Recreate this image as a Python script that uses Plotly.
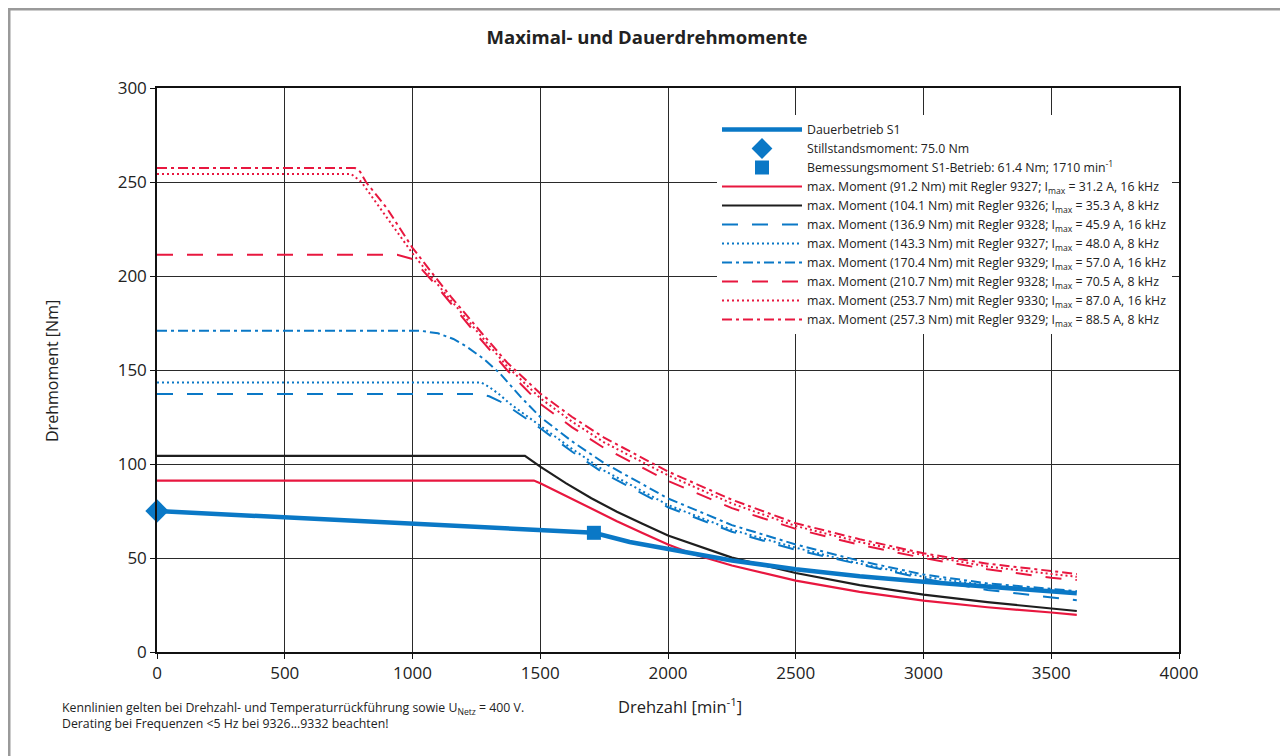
import plotly.graph_objects as go

# ---------------- data ----------------
x_ticks = [0, 500, 1000, 1500, 2000, 2500, 3000, 3500, 4000]
y_ticks = [0, 50, 100, 150, 200, 250, 300]

# Dauerbetrieb S1
n_s1 = [0, 1710, 1850, 2000, 2250, 2500, 2750, 3000, 3250, 3500, 3600]
t_s1 = [75.0, 63.4, 58.5, 54.6, 48.7, 44.0, 40.3, 37.4, 34.6, 32.1, 31.2]

# Stillstandsmoment / Bemessungsmoment
n_still = [0]
t_still = [75.0]
n_rated = [1710]
t_rated = [63.4]

# max. Moment 91.2 Nm (9327, 16 kHz) - red solid
n_r1 = [0, 1475, 1500, 1600, 1700, 1800, 1900, 2000, 2100, 2250, 2500, 2750, 3000, 3250, 3500, 3600]
t_r1 = [91.2, 91.2, 89.8, 83.0, 76.2, 69.6, 63.3, 57.2, 52.0, 46.0, 38.0, 32.0, 27.3, 23.8, 21.0, 19.8]

# max. Moment 104.1 Nm (9326, 8 kHz) - black solid
n_k1 = [0, 1440, 1500, 1600, 1700, 1800, 1900, 2000, 2250, 2500, 2750, 3000, 3250, 3500, 3600]
t_k1 = [104.3, 104.3, 98.6, 89.8, 81.8, 74.6, 68.2, 62.0, 50.2, 42.0, 35.6, 30.5, 26.5, 23.0, 21.8]

# max. Moment 136.9 Nm (9328, 16 kHz) - blue dashed
n_b1 = [0, 1264, 1300, 1340, 1382, 1440, 1500, 1625, 1750, 2000, 2250, 2500, 2750, 3000, 3250, 3500, 3600]
t_b1 = [137.2, 137.2, 136.0, 133.5, 130.0, 124.6, 119.0, 106.5, 95.0, 77.0, 64.0, 54.3, 46.5, 39.0, 33.0, 29.2, 27.5]

# max. Moment 143.3 Nm (9327, 8 kHz) - blue dotted
n_b2 = [0, 1270, 1300, 1340, 1382, 1440, 1500, 1625, 1750, 2000, 2250, 2500, 2750, 3000, 3250, 3500, 3600]
t_b2 = [143.3, 143.3, 141.0, 137.0, 132.0, 126.2, 120.5, 108.0, 96.5, 78.2, 65.0, 55.5, 47.0, 40.0, 35.5, 32.5, 31.8]

# max. Moment 170.4 Nm (9329, 16 kHz) - blue dash-dot
n_b3 = [0, 1030, 1100, 1160, 1212, 1280, 1342, 1420, 1500, 1625, 1750, 2000, 2250, 2500, 2750, 3000, 3250, 3500, 3600]
t_b3 = [170.9, 170.9, 169.5, 166.5, 162.4, 155.8, 148.2, 136.2, 125.0, 112.0, 100.5, 81.7, 67.5, 57.2, 48.5, 41.2, 36.5, 33.3, 32.4]

# max. Moment 210.7 Nm (9328, 8 kHz) - red dashed
n_r2 = [0, 940, 1000, 1080, 1150, 1250, 1370, 1500, 1625, 1750, 2000, 2250, 2500, 2750, 3000, 3250, 3500, 3600]
t_r2 = [211.3, 211.3, 209.0, 197.0, 185.5, 169.0, 150.0, 132.0, 119.5, 108.5, 91.0, 76.5, 65.5, 57.0, 50.0, 44.0, 39.5, 38.3]

# max. Moment 253.7 Nm (9330, 16 kHz) - red dotted
n_r3 = [0, 760, 800, 900, 1000, 1080, 1150, 1250, 1370, 1500, 1625, 1750, 2000, 2250, 2500, 2750, 3000, 3250, 3500, 3600]
t_r3 = [254.3, 254.3, 250.0, 231.0, 212.0, 198.5, 187.0, 171.0, 152.0, 135.0, 122.5, 111.5, 94.0, 79.0, 67.0, 58.5, 51.5, 45.5, 41.5, 40.0]

# max. Moment 257.3 Nm (9329, 8 kHz) - red dash-dot
n_r4 = [0, 775, 795, 818, 900, 1000, 1080, 1150, 1250, 1370, 1500, 1625, 1750, 2000, 2250, 2500, 2750, 3000, 3250, 3500, 3600]
t_r4 = [257.4, 257.4, 255.5, 250.0, 236.0, 215.0, 201.0, 189.0, 173.0, 154.0, 137.5, 125.0, 114.0, 96.0, 81.0, 68.5, 60.0, 52.5, 47.0, 43.0, 41.5]

names = [
    "Dauerbetrieb S1",
    "Stillstandsmoment: 75.0 Nm",
    "Bemessungsmoment S1-Betrieb: 61.4 Nm; 1710 min<sup>-1</sup>",
    "max. Moment (91.2 Nm) mit Regler 9327; I<sub>max</sub> = 31.2 A, 16 kHz",
    "max. Moment (104.1 Nm) mit Regler 9326; I<sub>max</sub> = 35.3 A, 8 kHz",
    "max. Moment (136.9 Nm) mit Regler 9328; I<sub>max</sub> = 45.9 A, 16 kHz",
    "max. Moment (143.3 Nm) mit Regler 9327; I<sub>max</sub> = 48.0 A, 8 kHz",
    "max. Moment (170.4 Nm) mit Regler 9329; I<sub>max</sub> = 57.0 A, 16 kHz",
    "max. Moment (210.7 Nm) mit Regler 9328; I<sub>max</sub> = 70.5 A, 8 kHz",
    "max. Moment (253.7 Nm) mit Regler 9330; I<sub>max</sub> = 87.0 A, 16 kHz",
    "max. Moment (257.3 Nm) mit Regler 9329; I<sub>max</sub> = 88.5 A, 8 kHz",
]

# ---------------- styles ----------------
BLUE = "#0a78c6"
RED = "#e8173f"
BLACK = "#1e1e1e"
FONT = "Open Sans, Noto Sans, DejaVu Sans, sans-serif"
DASH = "16px,14px"
DOT = "2px,3px"
DASHDOT = "10px,4px,3px,4px"

fig = go.Figure()

curves = [
    (n_r1, t_r1, RED, "solid", 2.2, names[3], 4),
    (n_k1, t_k1, BLACK, "solid", 2.2, names[4], 5),
    (n_b1, t_b1, BLUE, DASH, 2.0, names[5], 6),
    (n_b2, t_b2, BLUE, DOT, 2.0, names[6], 7),
    (n_b3, t_b3, BLUE, DASHDOT, 2.0, names[7], 8),
    (n_r2, t_r2, RED, DASH, 2.0, names[8], 9),
    (n_r3, t_r3, RED, DOT, 2.0, names[9], 10),
    (n_r4, t_r4, RED, DASHDOT, 2.0, names[10], 11),
]
for xs, ys, col, dash, w, nm, rank in curves:
    fig.add_trace(go.Scatter(x=xs, y=ys, mode="lines", name=nm, legendrank=rank,
                             line=dict(color=col, dash=dash, width=w)))

fig.add_trace(go.Scatter(x=n_s1, y=t_s1, mode="lines", name=names[0], legendrank=1,
                         line=dict(color=BLUE, width=4.5)))
fig.add_trace(go.Scatter(x=n_still, y=t_still, mode="markers", name=names[1], legendrank=2,
                         cliponaxis=False, marker=dict(symbol="diamond", size=18, color=BLUE)))
fig.add_trace(go.Scatter(x=n_rated, y=t_rated, mode="markers", name=names[2], legendrank=3,
                         cliponaxis=False, marker=dict(symbol="square", size=14, color=BLUE)))

# page has an 8px body margin; layout numbers below are page pixels
OFF = 8
W, H = 1288 - OFF, 756 - OFF
L, R, T, B = 157 - OFF, 109, 88 - OFF, 104
pw, ph = W - L - R, H - T - B


def px(xp):
    return (xp - OFF - L) / pw


def py(yp):
    return (H - B - (yp - OFF)) / ph


axis_common = dict(showline=True, linecolor="#111", linewidth=1.5, mirror=True,
                   showgrid=True, gridcolor="#2a2a2a", gridwidth=1,
                   ticks="outside", ticklen=5, tickcolor="#111", tickwidth=1.2,
                   tickfont=dict(family=FONT, size=17, color="#222"), zeroline=False)

fig.update_xaxes(range=[0, 4000], tickvals=x_ticks, **axis_common)
fig.update_yaxes(range=[0, 300], tickvals=y_ticks, **axis_common)

fig.update_layout(
    width=W, height=H,
    margin=dict(l=L, r=R, t=T, b=B),
    paper_bgcolor="white", plot_bgcolor="white",
    title=dict(text="<b>Maximal- und Dauerdrehmomente</b>", x=(647 - OFF) / W, xanchor="center",
               y=1 - (38 - OFF) / H, yref="container", yanchor="middle",
               font=dict(family=FONT, size=18.5, color="#222")),
    showlegend=True,
    legend=dict(x=px(717), y=py(115), xanchor="left", yanchor="top",
                bgcolor="white", borderwidth=0, itemwidth=80,
                font=dict(family=FONT, size=12.3, color="#222"),
                traceorder="normal"),
    annotations=[
        dict(text="Drehmoment [Nm]", textangle=-90, x=px(52), y=py(371), xref="paper", yref="paper",
             xanchor="center", yanchor="middle",
             showarrow=False, font=dict(family=FONT, size=16, color="#222")),
        dict(text="Drehzahl [min<sup>-1</sup>]", x=px(680), y=py(706), xref="paper", yref="paper",
             xanchor="center", yanchor="middle",
             showarrow=False, font=dict(family=FONT, size=16.5, color="#222")),
        dict(text="Kennlinien gelten bei Drehzahl- und Temperaturrückführung sowie U<sub>Netz</sub> = 400 V.<br>"
                  "Derating bei Frequenzen <5 Hz bei 9326...9332 beachten!",
             x=px(60), y=py(697), xref="paper", yref="paper", xanchor="left", yanchor="top",
             align="left", showarrow=False,
             font=dict(family=FONT, size=12.3, color="#222")),
    ],
    shapes=[
        dict(type="line", xref="paper", yref="paper", x0=px(OFF), x1=px(1288), y0=py(OFF), y1=py(OFF),
             line=dict(color="#9a9a9a", width=5)),
        dict(type="line", xref="paper", yref="paper", x0=px(OFF), x1=px(OFF), y0=py(OFF), y1=py(756),
             line=dict(color="#9a9a9a", width=5)),
        dict(type="line", xref="paper", yref="paper", x0=px(1286.5), x1=px(1286.5), y0=py(OFF), y1=py(756),
             line=dict(color="#dddddd", width=2)),
    ],
)

fig.write_html("out.html")
